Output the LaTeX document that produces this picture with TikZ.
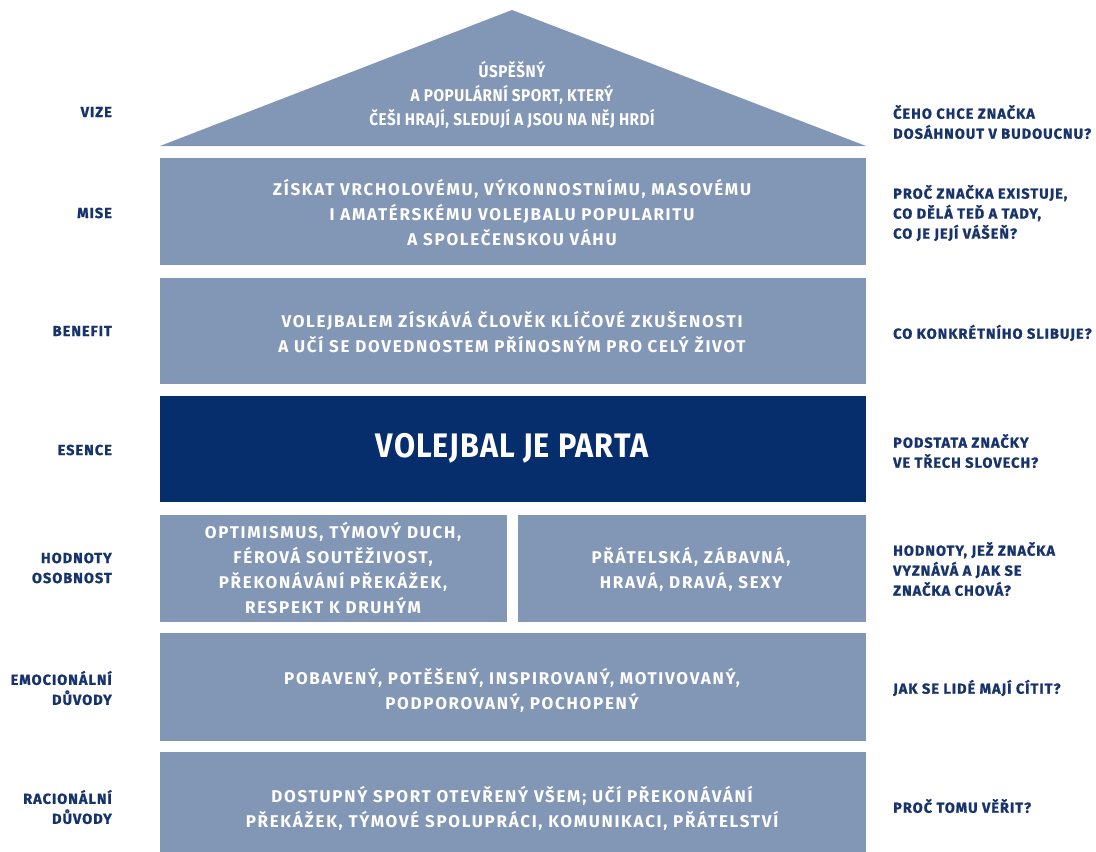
\documentclass[tikz,border=0pt]{standalone}
\usepackage{fontspec}
\setmainfont{Fira Sans}
\newfontfamily\rooffont{Fira Sans}[FakeStretch=0.9,LetterSpace=3]
\newfontfamily\boxfont{Fira Sans}[LetterSpace=10]
\newfontfamily\sidefont{Fira Sans}[LetterSpace=7,FakeBold=1.2]
\definecolor{slate}{HTML}{8296B6}
\definecolor{navy}{HTML}{062D6C}
\definecolor{ink}{HTML}{17336B}
\tikzset{
  layer/.style={fill=slate},
  boxtext/.style={text=white,align=center,inner sep=0pt,
    font=\boxfont\bfseries\fontsize{17}{25}\selectfont},
  rooftext/.style={boxtext,font=\rooffont\bfseries\fontsize{17}{24}\selectfont},
  lefttext/.style={text=ink,align=right,anchor=east,inner sep=0pt,
    font=\sidefont\bfseries\fontsize{14.5}{20}\selectfont},
  righttext/.style={lefttext,align=left,anchor=west}
}
\begin{document}
\begin{tikzpicture}[x=1pt,y=-1pt]
   \useasboundingbox (0,0) rectangle (1096,852);
   % house
   \fill[layer] (160,146) -- (512,10) -- (866,146) -- cycle;
   \fill[layer] (160,158) rectangle (866,265);
   \fill[layer] (160,278) rectangle (866,384);
   \fill[navy] (160,396) rectangle (866,502);
   \fill[layer] (160,515) rectangle (507,622);
   \fill[layer] (518,515) rectangle (866,622);
   \fill[layer] (160,633) rectangle (866,741);
   \fill[layer] (160,752) rectangle (866,852);

   \node[rooftext] (vize) at (512,95) {ÚSPĚŠNÝ\\A POPULÁRNÍ SPORT, KTERÝ\\ČEŠI HRAJÍ, SLEDUJÍ A JSOU NA NĚJ HRDÍ};
   \node[boxtext] (mise) at (512,213) {ZÍSKAT VRCHOLOVÉMU, VÝKONNOSTNÍMU, MASOVÉMU\\I AMATÉRSKÉMU VOLEJBALU POPULARITU\\A SPOLEČENSKOU VÁHU};
   \node[boxtext] (benefit) at (512,332) {VOLEJBALEM ZÍSKÁVÁ ČLOVĚK KLÍČOVÉ ZKUŠENOSTI\\A UČÍ SE DOVEDNOSTEM PŘÍNOSNÝM PRO CELÝ ŽIVOT};
   \node[rooftext,font=\rooffont\bfseries\fontsize{34}{40}\selectfont] (esence) at (512,448) {VOLEJBAL JE PARTA};
   \node[boxtext] (hodnoty) at (333,568) {OPTIMISMUS, TÝMOVÝ DUCH,\\FÉROVÁ SOUTĚŽIVOST,\\PŘEKONÁVÁNÍ PŘEKÁŽEK,\\RESPEKT K DRUHÝM};
   \node[boxtext] (osobnost) at (691,569) {PŘÁTELSKÁ, ZÁBAVNÁ,\\HRAVÁ, DRAVÁ, SEXY};
   \node[boxtext] (emo) at (512,690) {POBAVENÝ, POTĚŠENÝ, INSPIROVANÝ, MOTIVOVANÝ,\\PODPOROVANÝ, POCHOPENÝ};
   \node[boxtext] (raci) at (512,808) {DOSTUPNÝ SPORT OTEVŘENÝ VŠEM; UČÍ PŘEKONÁVÁNÍ\\PŘEKÁŽEK, TÝMOVÉ SPOLUPRÁCI, KOMUNIKACI, PŘÁTELSTVÍ};

   % left labels
   \node[lefttext] (lvize) at (112,112) {VIZE};
   \node[lefttext] (lmise) at (112,213) {MISE};
   \node[lefttext] (lbenefit) at (112,331) {BENEFIT};
   \node[lefttext] (lesence) at (112,450) {ESENCE};
   \node[lefttext] (lhodnoty) at (112,568) {HODNOTY\\OSOBNOST};
   \node[lefttext] (lemo) at (112,688) {EMOCIONÁLNÍ\\DŮVODY};
   \node[lefttext] (lraci) at (112,807) {RACIONÁLNÍ\\DŮVODY};

   % right labels
   \node[righttext] (rvize) at (893,122) {ČEHO CHCE ZNAČKA\\DOSÁHNOUT V BUDOUCNU?};
   \node[righttext] (rmise) at (893,213) {PROČ ZNAČKA EXISTUJE,\\CO DĚLÁ TEĎ A TADY,\\CO JE JEJÍ VÁŠEŇ?};
   \node[righttext] (rbenefit) at (893,333) {CO KONKRÉTNÍHO SLIBUJE?};
   \node[righttext] (resence) at (893,451) {PODSTATA ZNAČKY\\VE TŘECH SLOVECH?};
   \node[righttext] (rhodnoty) at (893,569) {HODNOTY, JEŽ ZNAČKA\\VYZNÁVÁ A JAK SE\\ZNAČKA CHOVÁ?};
   \node[righttext] (remo) at (893,688) {JAK SE LIDÉ MAJÍ CÍTIT?};
   \node[righttext] (rraci) at (893,806) {PROČ TOMU VĚŘIT?};
\end{tikzpicture}
\end{document}
